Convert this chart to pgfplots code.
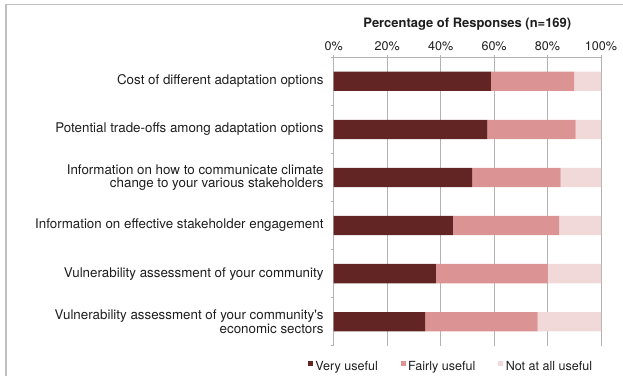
\documentclass[border=0pt]{standalone}
\usepackage{fontspec}
\setmainfont{TeX Gyre Heros}
\usepackage{pgfplots}
\pgfplotsset{compat=1.18}
\definecolor{vu}{RGB}{99,36,36}
\definecolor{fu}{RGB}{219,148,147}
\definecolor{nu}{RGB}{242,217,217}
\definecolor{gridc}{RGB}{178,178,178}
\definecolor{framec}{RGB}{192,192,192}
\definecolor{txt}{RGB}{30,30,30}
\pgfplotsset{legsq/.style={legend image code/.code={\fill[##1] (0bp,0.8bp) rectangle (5bp,5.8bp);}}}
\begin{document}
\begin{tikzpicture}[x=1bp,y=1bp]
\useasboundingbox (0,0) rectangle (623,376);
\draw[line width=1.6bp, framec] (5.8,0) -- (5.8,371.3) -- (623,371.3);
\begin{axis}[
  at={(333.7bp,30.3bp)}, anchor=south west,
  scale only axis, width=267.3bp, height=288.4bp,
  xbar stacked, bar width=19.3bp,
  xmin=0, xmax=100, ymin=-0.5, ymax=5.5, y dir=reverse,
  axis x line=top, axis y line=left,
  axis line style={-, draw=gridc, line width=0.8bp},
  every outer x axis line/.append style={-},
  every outer y axis line/.append style={-},
  xmajorgrids, grid style={draw=gridc, line width=0.8bp},
  xtick={0,20,40,60,80,100},
  xticklabels={0\%,20\%,40\%,60\%,80\%,100\%},
  ytick={0,1,2,3,4,5},
  yticklabels={{Cost of different adaptation options},
    {Potential trade-offs among adaptation options},
    {Information on how to communicate climate\\change to your various stakeholders},
    {Information on effective stakeholder engagement},
    {Vulnerability assessment of your community},
    {Vulnerability assessment of your community\textquotesingle s\\economic sectors}},
  minor ytick={-0.5,0.5,1.5,2.5,3.5,4.5,5.5},
  major tick length=4bp, minor tick length=3bp,
  tick align=center,
  tick style={draw=gridc, line width=0.8bp},
  major y tick style={draw=none},
  every minor y tick/.append style={xshift=-1.5bp},
  x tick label style={font=\fontsize{12.6}{13}\selectfont, text=txt, anchor=base, yshift=5.3bp},
  y tick label style={font=\fontsize{13.4}{13.8}\selectfont, text=txt, align=right, anchor=east, inner sep=0pt, xshift=-8bp},
  title={Percentage of Responses (n=169)},
  title style={font=\bfseries\fontsize{13}{14}\selectfont, text=txt, at={(0.5,1)}, anchor=base, yshift=24bp},
  legend columns=3,
  legend style={at={(-0.0973,-0.071)}, anchor=west, draw=none, fill=none,
    inner sep=0pt, outer sep=0pt, font=\fontsize{12.6}{13}\selectfont, text=txt,
    nodes={inner sep=0pt},
    /tikz/every odd column/.append style={column sep=2.7bp},
    /tikz/every even column/.append style={column sep=22.7bp}},
]
\addplot[fill=vu, draw=none, legsq] coordinates {(58.8,0) (57.5,1) (51.8,2) (44.6,3) (38.2,4) (34.2,5)};
\addplot[fill=fu, draw=none, legsq] coordinates {(31.1,0) (33.0,1) (33.1,2) (39.7,3) (41.9,4) (42.1,5)};
\addplot[fill=nu, draw=none, legsq] coordinates {(10.1,0) (9.5,1) (15.1,2) (15.7,3) (19.9,4) (23.7,5)};
\legend{Very useful, Fairly useful, Not at all useful}
\end{axis}
\end{tikzpicture}
\end{document}
